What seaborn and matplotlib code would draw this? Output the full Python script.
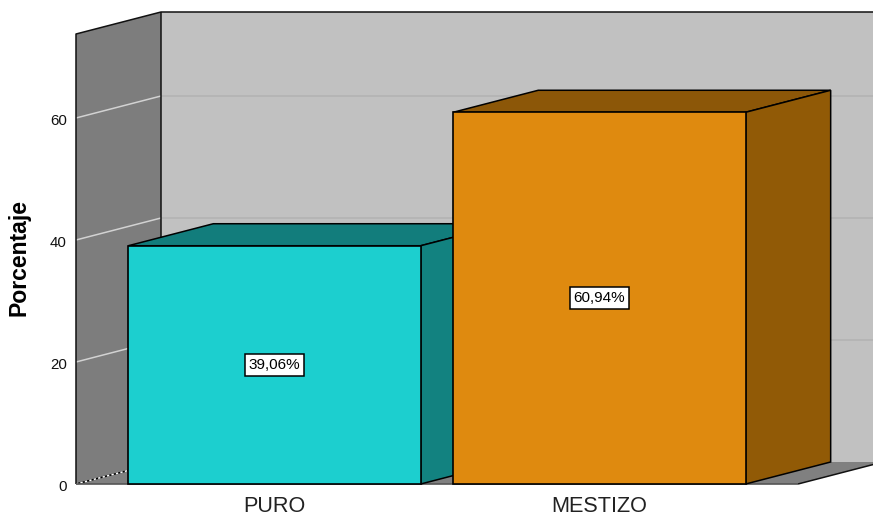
import matplotlib
matplotlib.use("Agg")
import matplotlib.pyplot as plt
from matplotlib.patches import Polygon
from matplotlib.transforms import ScaledTranslation
import pandas as pd
import seaborn as sns

categories = ["PURO", "MESTIZO"]
percentages = [39.06, 60.94]
value_labels = ["39,06%", "60,94%"]
y_ticks = [0, 20, 40, 60]
front_colors = ["#1CCFCF", "#DF8A0F"]
top_colors = ["#127D7C", "#8C5708"]
side_colors = ["#128280", "#915A06"]

W, H = 873, 516
sns.set_theme(style="white")
plt.rcParams["font.family"] = ["Liberation Sans", "DejaVu Sans"]

fig = plt.figure(figsize=(W / 100, H / 100), dpi=100, facecolor="white")
ax = fig.add_axes([76 / W, (H - 484) / H, (798 - 76) / W, (484 - 34) / H])
ax.patch.set_alpha(0)

df = pd.DataFrame({"Grupo": categories, "Porcentaje": percentages})
sns.barplot(data=df, x="Grupo", y="Porcentaje", hue="Grupo", palette=front_colors,
            hue_order=categories, order=categories, width=0.9, dodge=False,
            edgecolor="black", linewidth=1.2, saturation=1, legend=False, ax=ax)

x0, x1 = -0.611, 1.611
y0, y1 = 0, 73.77
ax.set_xlim(x0, x1)
ax.set_ylim(y0, y1)
dx = 85 / 325
dy = 22 / 6.1


def poly(pts, color, z, edge="none", lw=0):
    ax.add_patch(Polygon(pts, closed=True, facecolor=color, edgecolor=edge,
                         linewidth=lw, clip_on=False, zorder=z, joinstyle="miter"))


def line(xs, ys, color, lw, z, **kw):
    ax.plot(xs, ys, color=color, lw=lw, zorder=z, clip_on=False,
            solid_capstyle="butt", **kw)


# Walls and floor
poly([(x0 + dx, y0 + dy), (x1 + dx, y0 + dy), (x1 + dx, y1 + dy), (x0 + dx, y1 + dy)], "#C1C1C1", 1)
poly([(x0, y0), (x0 + dx, y0 + dy), (x0 + dx, y1 + dy), (x0, y1)], "#7D7D7D", 1.1)
poly([(x0, y0), (x1, y0), (x1 + dx, y0 + dy), (x0 + dx, y0 + dy)], "#808080", 1.2)

for t in y_ticks[1:]:
    line([x0, x0 + dx], [t, t + dy], "#D2D2D2", 1.1, 1.3)
    line([x0 + dx, x1 + dx], [t + dy, t + dy], "#B2B2B2", 1.1, 1.3)
line([x0, x0 + dx], [0, dy], "black", 1.1, 1.3)
line([x0, x0 + dx], [0, dy], "white", 1.1, 1.31, linestyle=(0, (1.5, 1.5)))

line([x0, x0, x0 + dx, x1 + dx], [0, y1, y1 + dy, y1 + dy], "#111111", 1.1, 1.4)
line([x0 + dx, x0 + dx], [dy, y1 + dy], "#111111", 1.1, 1.4)
line([x1, x1 + dx], [0, dy], "#111111", 1.1, 1.4)
line([x0, x1], [0, 0], "#555555", 1.2, 1.4)

# Bars: each front face comes from the seaborn bar, its depth from the same scale
for i, container in enumerate(ax.containers):
    p = container[0]
    z = 2 + i
    left, right, top = p.get_x(), p.get_x() + p.get_width(), p.get_height()
    poly([(left, top), (right, top), (right + dx, top + dy), (left + dx, top + dy)],
         top_colors[i], z, "black", 1.1)
    poly([(right, 0), (right + dx, dy), (right + dx, top + dy), (right, top)],
         side_colors[i], z, "black", 1.1)
    p.set_zorder(z + 0.1)
    p.set_clip_on(False)
    ax.text(p.get_x() + p.get_width() / 2, top / 2, value_labels[i], ha="center",
            va="center", fontsize=11, color="black", zorder=z + 0.2,
            bbox=dict(boxstyle="square,pad=0.24", facecolor="white",
                      edgecolor="black", linewidth=1.1))

for s in ax.spines.values():
    s.set_visible(False)
ax.set_yticks(y_ticks)
ax.set_xticks(range(len(categories)))
ax.set_xticklabels(categories)
ax.tick_params(axis="y", length=0, pad=6.5, labelsize=10.8, labelcolor="#111111")
ax.tick_params(axis="x", length=0, pad=9, labelsize=15.6, labelcolor="#222222")
shift = ScaledTranslation(0, -1.5 / 100, fig.dpi_scale_trans)
for lab in ax.get_yticklabels():
    lab.set_transform(lab.get_transform() + shift)

ax.set_xlabel("")
ax.set_ylabel("Porcentaje", fontsize=16.6, fontweight="bold", color="black")
ax.yaxis.set_label_coords((31 - 76) / (798 - 76), (484 - 258) / (484 - 34))

fig.savefig("out.png", dpi=100, facecolor="white")
